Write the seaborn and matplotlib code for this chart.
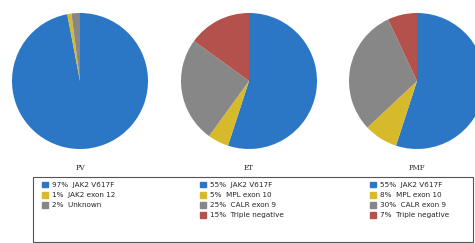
import matplotlib
matplotlib.use("Agg")
import matplotlib.pyplot as plt
import matplotlib.patches as mpatches
import seaborn as sns

sns.set_style("white")
plt.rcParams['font.family'] = ['DejaVu Sans']

# data
groups = ['PV', 'ET', 'PMF']
pv_labels = ['JAK2 V617F', 'JAK2 exon 12', 'Unknown']
pv_values = [97, 1, 2]
et_labels = ['JAK2 V617F', 'MPL exon 10', 'CALR exon 9', 'Triple negative']
et_values = [55, 5, 25, 15]
pmf_labels = ['JAK2 V617F', 'MPL exon 10', 'CALR exon 9', 'Triple negative']
pmf_values = [55, 8, 30, 7]

blue, yellow, gray, red = '#2b77c6', '#d6ba2c', '#878787', '#b3524d'
pv_colors = [blue, yellow, gray]
other_colors = [blue, yellow, gray, red]

W, H = 475, 243
fig = plt.figure(figsize=(W / 100, H / 100), dpi=100)

def px_axes(cx, cy, r):
    return fig.add_axes([(cx - r) / W, 1 - (cy + r) / H, 2 * r / W, 2 * r / H])

centers = [(80, 81), (249, 81), (417, 81)]
all_vals = [pv_values, et_values, pmf_values]
all_cols = [pv_colors, other_colors, other_colors]
all_labs = [pv_labels, et_labels, pmf_labels]

for (cx, cy), name, vals, cols in zip(centers, groups, all_vals, all_cols):
    ax = px_axes(cx, cy, 68)
    ax.pie(vals, colors=cols, startangle=90, counterclock=False,
           wedgeprops=dict(linewidth=0))
    ax.set_xlim(-1, 1)
    ax.set_ylim(-1, 1)
    ax.set_aspect('equal')
    ax.axis('off')
    fig.text(cx / W, 1 - 168 / H, name, ha='center', va='center',
             fontsize=5, family='DejaVu Serif')

# legend frame
frame = mpatches.Rectangle((33 / W, 1 - 242 / H), 440 / W, 65 / H,
                           transform=fig.transFigure, fill=True,
                           facecolor='white', edgecolor='#555555', lw=0.8)
fig.patches.append(frame)

# one legend per pie, side by side inside the frame
col_x = [35, 193, 363]
for x, labs, vals, cols in zip(col_x, all_labs, all_vals, all_cols):
    handles = [mpatches.Patch(color=c) for c in cols]
    texts = [f"{v}%  {l}" for v, l in zip(vals, labs)]
    leg = fig.legend(handles, texts, loc='upper left',
                     bbox_to_anchor=(x / W, 1 - 175 / H),
                     fontsize=5.2, frameon=False,
                     handlelength=0.9, handleheight=0.9, handletextpad=0.5,
                     labelspacing=0.5, borderpad=0.4)

fig.savefig('out.png', dpi=100)
